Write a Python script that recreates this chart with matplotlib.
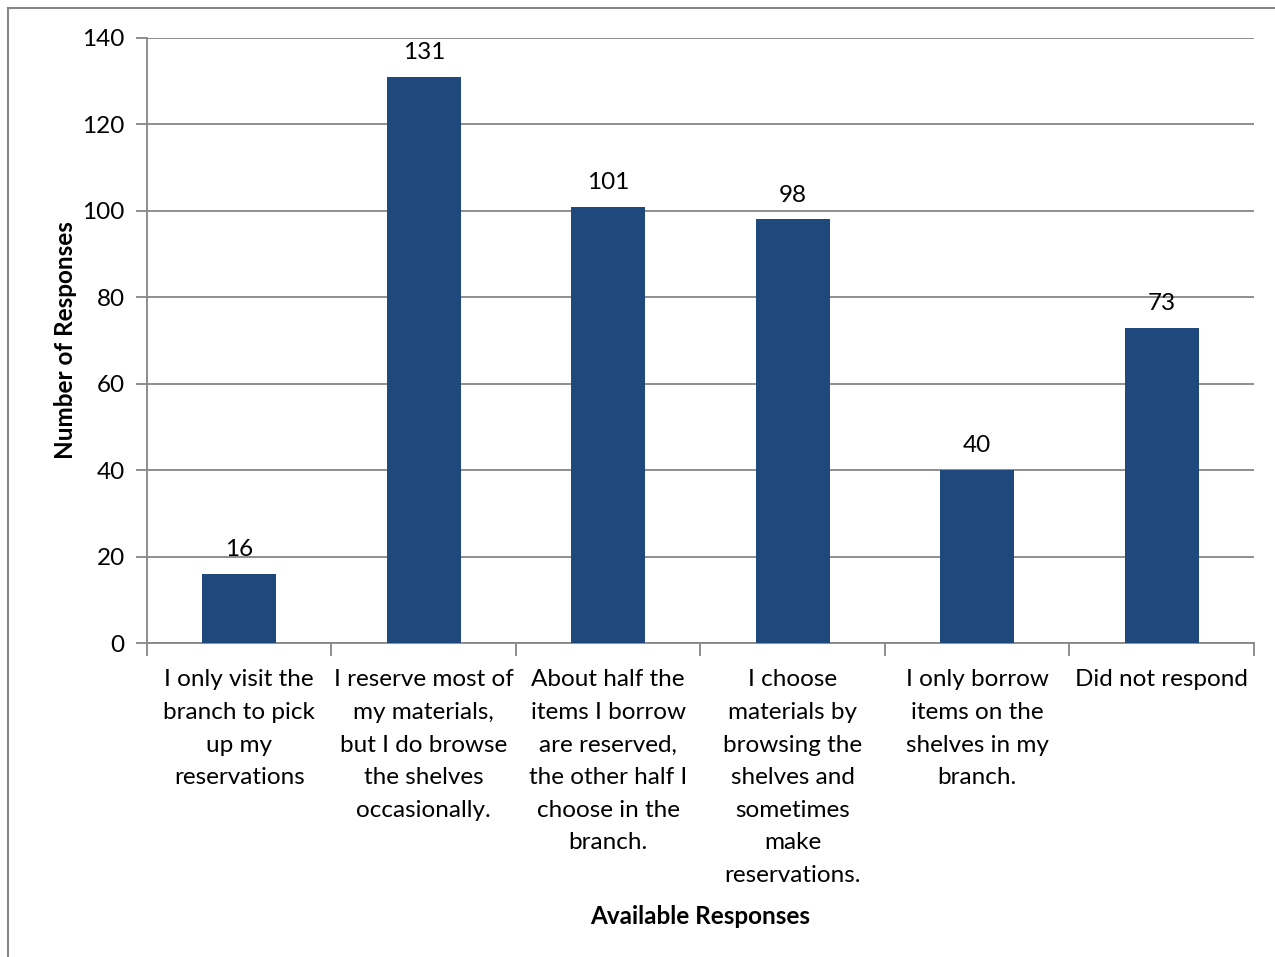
import matplotlib.pyplot as plt
from matplotlib.patches import Rectangle

plt.rcParams['font.family'] = ['Lato', 'DejaVu Sans']

categories = [
    "I only visit the\nbranch to pick\nup my\nreservations",
    "I reserve most of\nmy materials,\nbut I do browse\nthe shelves\noccasionally.",
    "About half the\nitems I borrow\nare reserved,\nthe other half I\nchoose in the\nbranch.",
    "I choose\nmaterials by\nbrowsing the\nshelves and\nsometimes\nmake\nreservations.",
    "I only borrow\nitems on the\nshelves in my\nbranch.",
    "Did not respond",
]
responses = [16, 131, 101, 98, 40, 73]
y_ticks = [0, 20, 40, 60, 80, 100, 120, 140]

bar_color = "#1F497D"
line_color = "#868686"

fig = plt.figure(figsize=(12.75, 9.57), dpi=100)
ax = fig.add_axes([0.1153, 0.3281, 0.8682, 0.6322])

# outer chart frame
fig.patches.append(Rectangle((8 / 1275, -0.01), 1.1, 1 - 8 / 957 + 0.01,
                             transform=fig.transFigure, fill=False,
                             edgecolor=line_color, linewidth=1.5))

x = range(len(categories))
ax.bar(x, responses, width=0.4, color=bar_color, zorder=3)
for xi, v in zip(x, responses):
    ax.text(xi, v + 3.2, str(v), ha="center", va="bottom", fontsize=17.5)

ax.set_xlim(-0.5, len(categories) - 0.5)
ax.set_ylim(0, 140)
ax.set_yticks(y_ticks)
ax.tick_params(axis="y", labelsize=17.5, length=8, color=line_color, width=1.3, pad=8)
ax.yaxis.grid(True, color=line_color, linewidth=1.3, zorder=0)

ax.set_xticks([i - 0.5 for i in range(len(categories) + 1)], minor=False)
ax.set_xticklabels([])
ax.tick_params(axis="x", length=9, color=line_color, width=1.3)
ax.set_xticks(list(x), minor=True)
ax.set_xticklabels(categories, minor=True, fontsize=17.5, linespacing=1.68)
ax.tick_params(axis="x", which="minor", length=0, pad=19)

for side in ["top", "right"]:
    ax.spines[side].set_visible(False)
for side in ["left", "bottom"]:
    ax.spines[side].set_color(line_color)
    ax.spines[side].set_linewidth(1.3)

ax.set_ylabel("Number of Responses", fontsize=17.5, fontweight="bold", labelpad=4)
ax.set_xlabel("Available Responses", fontsize=17.5, fontweight="bold", labelpad=14)

fig.savefig("out.png", dpi=100)
